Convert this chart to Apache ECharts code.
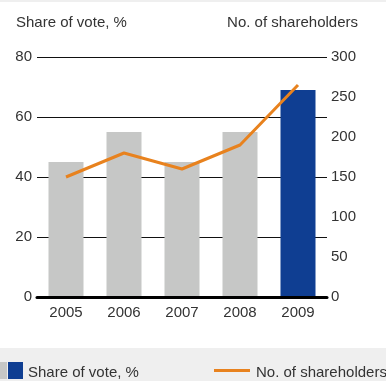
<!DOCTYPE html>
<html><head><meta charset="utf-8">
<script src="https://cdn.jsdelivr.net/npm/echarts@6/dist/echarts.min.js"></script>
<style>html,body{margin:0;padding:0;background:#fff}#c{width:386px;height:381px}</style>
</head><body><div id="c"></div>
<script>
var years = ['2005','2006','2007','2008','2009'];
var shareOfVote = [45, 55, 45, 55, 69];
var shareholders = [150, 180, 160, 190, 265];
var barColors = ['#c6c7c6','#c6c7c6','#c6c7c6','#c6c7c6','#0f3e92'];
var leftTicks = [0, 20, 40, 60, 80];
var rightTicks = [0, 50, 100, 150, 200, 250, 300];

var font = 'Liberation Sans, Arial, sans-serif';
var chart = echarts.init(document.getElementById('c'), null, {renderer:'canvas'});
chart.setOption({
  animation:false,
  backgroundColor:'#fff',
  grid:{left:37, right:59, top:57, bottom:84},
  xAxis:{type:'category', data:years, boundaryGap:true, z:5,
    axisLine:{show:true, lineStyle:{color:'#000', width:3}},
    axisTick:{show:false},
    axisLabel:{color:'#333', fontSize:15, fontFamily:font, margin:8}},
  yAxis:[
    {type:'value', min:leftTicks[0], max:leftTicks[leftTicks.length-1], interval:20, position:'left',
     axisLine:{show:false}, axisTick:{show:false},
     axisLabel:{color:'#333', fontSize:15, fontFamily:font, margin:5},
     splitLine:{show:true, lineStyle:{color:'#111', width:1}}},
    {type:'value', min:rightTicks[0], max:rightTicks[rightTicks.length-1], interval:50, position:'right',
     axisLine:{show:false}, axisTick:{show:false},
     axisLabel:{color:'#333', fontSize:15, fontFamily:font, margin:4},
     splitLine:{show:false}}
  ],
  series:[
    {type:'bar', yAxisIndex:0, barWidth:35, z:1,
     data:shareOfVote.map(function(v,i){return {value:v, itemStyle:{color:barColors[i]}};})},
    {type:'line', yAxisIndex:1, data:shareholders, symbol:'none', z:3,
     lineStyle:{color:'#e8821e', width:3}}
  ],
  graphic:[
    {type:'rect', left:0, top:0, shape:{width:386, height:2}, style:{fill:'#efefef'}},
    {type:'text', left:16, top:15, style:{text:'Share of vote, %', fill:'#333', font:'15px '+font}},
    {type:'text', right:28, top:15, style:{text:'No. of shareholders', fill:'#333', font:'15px '+font}},
    {type:'rect', left:0, top:348, shape:{width:386, height:33}, style:{fill:'#efefef'}},
    {type:'rect', left:0, top:362, shape:{width:7, height:17}, style:{fill:'#c6c7c6'}},
    {type:'rect', left:8, top:362, shape:{width:15, height:17}, style:{fill:'#0f3e92'}},
    {type:'text', left:28, top:365, style:{text:'Share of vote, %', fill:'#333', font:'15px '+font}},
    {type:'rect', left:214, top:369, shape:{width:36, height:3}, style:{fill:'#e8821e'}},
    {type:'text', left:256, top:365, style:{text:'No. of shareholders', fill:'#333', font:'15px '+font}}
  ]
});
</script></body></html>
